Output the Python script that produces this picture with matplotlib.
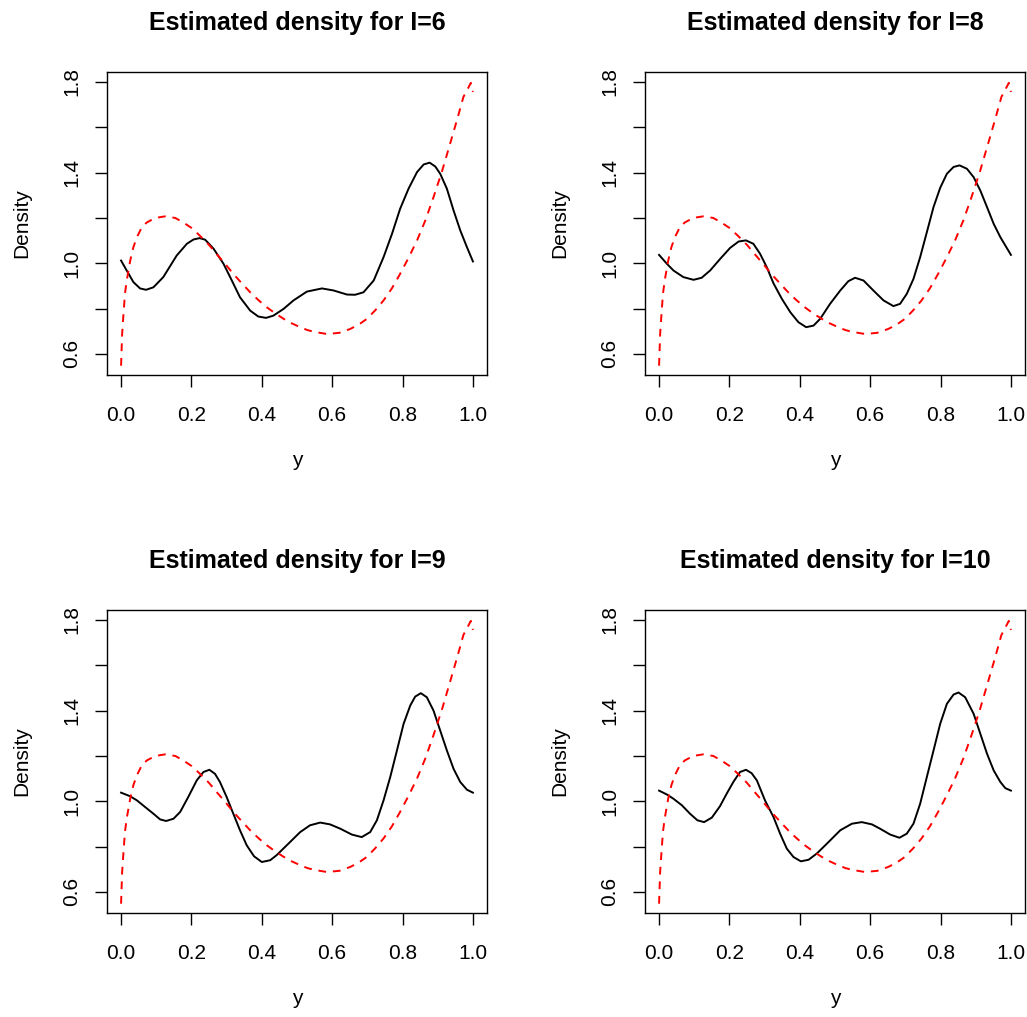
import numpy as np
import matplotlib.pyplot as plt

plt.rcParams['font.family'] = ['Liberation Sans', 'DejaVu Sans']

# true density (red dashed), same in every panel
true_x = [0.0, 0.003, 0.0066, 0.011, 0.016, 0.026, 0.035, 0.045, 0.059, 0.073,
          0.097, 0.125, 0.154, 0.177, 0.201, 0.225, 0.250, 0.272, 0.296, 0.319,
          0.343, 0.367, 0.390, 0.414, 0.438, 0.462, 0.485, 0.509, 0.530, 0.550,
          0.585, 0.620, 0.651, 0.675, 0.699, 0.722, 0.746, 0.770, 0.793, 0.817,
          0.841, 0.865, 0.888, 0.912, 0.935, 0.955, 0.973, 0.983, 0.994, 1.0]
true_y = [0.548, 0.688, 0.770, 0.865, 0.924, 1.012, 1.071, 1.115, 1.159, 1.180,
          1.200, 1.207, 1.200, 1.180, 1.155, 1.120, 1.081, 1.040, 0.997, 0.953,
          0.912, 0.872, 0.838, 0.806, 0.779, 0.755, 0.735, 0.718, 0.705, 0.697,
          0.688, 0.693, 0.710, 0.729, 0.755, 0.792, 0.836, 0.890, 0.953, 1.024,
          1.100, 1.190, 1.292, 1.405, 1.527, 1.634, 1.734, 1.763, 1.796, 1.756]

# estimated densities (black), one per I
est_x = {
    6: [0.0, 0.016, 0.035, 0.054, 0.071, 0.092, 0.120, 0.158, 0.187, 0.206,
        0.223, 0.239, 0.263, 0.291, 0.310, 0.338, 0.367, 0.390, 0.412, 0.433,
        0.462, 0.490, 0.528, 0.571, 0.604, 0.642, 0.665, 0.689, 0.718, 0.746,
        0.770, 0.793, 0.817, 0.841, 0.860, 0.877, 0.893, 0.907, 0.926, 0.945,
        0.964, 0.983, 1.0],
    8: [0.0, 0.022, 0.041, 0.069, 0.098, 0.121, 0.145, 0.174, 0.202, 0.226,
        0.247, 0.268, 0.287, 0.306, 0.325, 0.349, 0.373, 0.396, 0.418, 0.439,
        0.458, 0.486, 0.515, 0.538, 0.557, 0.581, 0.609, 0.638, 0.666, 0.685,
        0.704, 0.723, 0.742, 0.761, 0.780, 0.799, 0.818, 0.837, 0.854, 0.875,
        0.894, 0.913, 0.932, 0.951, 0.970, 1.0],
    9: [0.0, 0.026, 0.045, 0.068, 0.092, 0.111, 0.128, 0.149, 0.168, 0.191,
        0.215, 0.234, 0.251, 0.267, 0.281, 0.300, 0.319, 0.338, 0.357, 0.378,
        0.400, 0.424, 0.442, 0.471, 0.509, 0.537, 0.566, 0.594, 0.623, 0.656,
        0.684, 0.708, 0.727, 0.746, 0.765, 0.784, 0.803, 0.822, 0.836, 0.852,
        0.869, 0.888, 0.907, 0.926, 0.945, 0.964, 0.983, 1.0],
    10: [0.0, 0.022, 0.041, 0.065, 0.088, 0.109, 0.128, 0.150, 0.173, 0.192,
         0.211, 0.230, 0.247, 0.263, 0.278, 0.301, 0.325, 0.344, 0.363, 0.382,
         0.403, 0.425, 0.448, 0.477, 0.515, 0.548, 0.576, 0.605, 0.628, 0.657,
         0.683, 0.704, 0.723, 0.742, 0.761, 0.780, 0.799, 0.818, 0.837, 0.851,
         0.870, 0.894, 0.913, 0.932, 0.951, 0.970, 0.984, 1.0],
}
est_y = {
    6: [1.012, 0.968, 0.917, 0.889, 0.883, 0.894, 0.939, 1.034, 1.086, 1.105,
        1.111, 1.104, 1.064, 0.998, 0.939, 0.850, 0.791, 0.765, 0.759, 0.769,
        0.799, 0.836, 0.875, 0.889, 0.880, 0.862, 0.861, 0.872, 0.924, 1.027,
        1.130, 1.240, 1.329, 1.402, 1.436, 1.444, 1.427, 1.395, 1.329, 1.233,
        1.145, 1.071, 1.008],
    8: [1.037, 0.998, 0.968, 0.939, 0.927, 0.936, 0.968, 1.020, 1.068, 1.096,
        1.101, 1.086, 1.042, 0.983, 0.912, 0.843, 0.784, 0.740, 0.718, 0.725,
        0.755, 0.821, 0.880, 0.921, 0.936, 0.924, 0.880, 0.836, 0.811, 0.821,
        0.865, 0.931, 1.027, 1.137, 1.248, 1.333, 1.395, 1.425, 1.432, 1.417,
        1.380, 1.321, 1.248, 1.174, 1.115, 1.037],
    9: [1.038, 1.022, 1.004, 0.975, 0.945, 0.920, 0.913, 0.923, 0.953, 1.019,
        1.092, 1.129, 1.139, 1.121, 1.085, 1.019, 0.945, 0.872, 0.806, 0.757,
        0.732, 0.740, 0.762, 0.806, 0.864, 0.894, 0.906, 0.898, 0.879, 0.853,
        0.842, 0.864, 0.916, 1.004, 1.107, 1.224, 1.342, 1.423, 1.462, 1.477,
        1.459, 1.400, 1.312, 1.224, 1.143, 1.085, 1.051, 1.038],
    10: [1.047, 1.030, 1.011, 0.982, 0.945, 0.916, 0.908, 0.928, 0.978, 1.033,
         1.085, 1.129, 1.139, 1.124, 1.092, 1.004, 0.931, 0.857, 0.791, 0.754,
         0.735, 0.742, 0.769, 0.813, 0.872, 0.901, 0.908, 0.898, 0.879, 0.853,
         0.839, 0.857, 0.901, 0.989, 1.107, 1.224, 1.342, 1.430, 1.471, 1.480,
         1.459, 1.386, 1.298, 1.210, 1.136, 1.085, 1.058, 1.047],
}

levels = [6, 8, 9, 10]
xticks = [0.0, 0.2, 0.4, 0.6, 0.8, 1.0]
yticks = [0.6, 0.8, 1.0, 1.2, 1.4, 1.6, 1.8]
ytick_labels = ['0.6', '', '1.0', '', '1.4', '', '1.8']

W, H = 1027, 1017
fig = plt.figure(figsize=(W / 100, H / 100), dpi=100)

# box positions in pixels (left, top)
boxes = [(107, 72), (645, 72), (107, 610), (645, 610)]
bw, bh = 380, 303

for lev, (bx, by) in zip(levels, boxes):
    ax = fig.add_axes([bx / W, 1 - (by + bh) / H, bw / W, bh / H])
    ax.plot(est_x[lev], est_y[lev], color='black', lw=1.4)
    ax.plot(true_x, true_y, color='red', lw=1.4, dashes=(4, 3.5))
    ax.set_xlim(-0.04, 1.04)
    ax.set_ylim(0.507, 1.844)
    ax.set_xticks(xticks, ['0.0', '0.2', '0.4', '0.6', '0.8', '1.0'])
    ax.set_yticks(yticks, ytick_labels, rotation=90, va='center')
    ax.tick_params(direction='out', length=8.6, width=1.0, labelsize=15)
    ax.tick_params(axis='x', pad=13.5)
    ax.tick_params(axis='y', pad=10)
    for s in ax.spines.values():
        s.set_linewidth(1.0)
    ax.set_xlabel('y', fontsize=15, labelpad=19)
    ax.set_ylabel('Density', fontsize=15, labelpad=22)
    ax.set_title(f'Estimated density for I={lev}', fontsize=18,
                 fontweight='bold', pad=30)

fig.savefig('out.png', dpi=100)
